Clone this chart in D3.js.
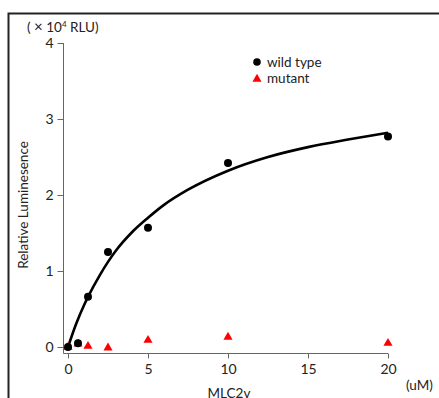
<!DOCTYPE html>
<html><head><meta charset="utf-8">
<script src="https://cdn.jsdelivr.net/npm/d3@7/dist/d3.min.js"></script>
<style>body{margin:0;background:#fff;} svg{display:block;font-family:Lato,"Open Sans",sans-serif;}</style>
</head><body>
<script>
const concentrations = [0, 0.625, 1.25, 2.5, 5, 10, 20];
const wildType = [0, 0.05, 0.66, 1.25, 1.57, 2.42, 2.77];
const mutant = [0, 0.04, 0.01, -0.01, 0.09, 0.13, 0.05];
const fitX = [0, 0.5, 1, 1.25, 2, 2.5, 3, 4, 5, 6, 7.5, 10, 12.5, 15, 17.5, 20];
const fitY = [0, 0.3, 0.55, 0.66, 0.95, 1.12, 1.27, 1.51, 1.70, 1.87, 2.07, 2.32, 2.50, 2.63, 2.73, 2.82];
const xTicks = [0, 5, 10, 15, 20];
const yTicks = [0, 1, 2, 3, 4];

const W = 439, H = 398;
const svg = d3.select("body").append("svg").attr("width", W).attr("height", H);

// frame
svg.append("rect").attr("x", 8.5).attr("y", 13.5).attr("width", 500).attr("height", 500)
  .attr("fill", "none").attr("stroke", "#222").attr("stroke-width", 2);

const x = d3.scaleLinear().domain([0, 20]).range([68, 388]);
const y = d3.scaleLinear().domain([0, 4]).range([347, 43]);

const axisColor = "#666";
// y axis
const yAxis = svg.append("g").attr("transform", "translate(63.5,0)")
  .call(d3.axisLeft(y).tickValues(yTicks).tickFormat(d3.format("d")).tickSize(6).tickPadding(4).tickSizeOuter(0));
yAxis.select(".domain").remove();
yAxis.append("line").attr("x1", 0).attr("x2", 0).attr("y1", y(4)).attr("y2", 353.5).attr("stroke", axisColor);
// x axis
const xAxis = svg.append("g").attr("transform", "translate(0,353.5)")
  .call(d3.axisBottom(x).tickValues(xTicks).tickFormat(d3.format("d")).tickSize(5).tickPadding(6).tickSizeOuter(0));
xAxis.select(".domain").remove();
xAxis.append("line").attr("x1", 63.5).attr("x2", x(20)).attr("y1", 0).attr("y2", 0).attr("stroke", axisColor);
svg.selectAll(".tick line").attr("stroke", axisColor);
svg.selectAll(".tick text").attr("fill", "#222").style("font-size", "14px").style("font-family", "Lato, sans-serif");

// labels
svg.append("text").attr("x", 27).attr("y", 32).attr("fill", "#222").style("font-size", "13.5px")
  .html('( <tspan font-size="15">×</tspan> 10<tspan dy="-5" font-size="8">4</tspan><tspan dy="5"> RLU)</tspan>');
svg.append("text").attr("transform", "translate(28,205) rotate(-90)").attr("text-anchor", "middle")
  .attr("fill", "#222").style("font-size", "13.5px").text("Relative Luminesence");
svg.append("text").attr("x", 229).attr("y", 398).attr("text-anchor", "middle")
  .attr("fill", "#222").style("font-size", "13.5px").text("MLC2v");
svg.append("text").attr("x", 406).attr("y", 390).attr("fill", "#222").style("font-size", "13.5px").text("(uM)");

// fit curve
const line = d3.line().x(d => x(d[0])).y(d => y(d[1])).curve(d3.curveMonotoneX);
svg.append("path").datum(fitX.map((v, i) => [v, fitY[i]])).attr("d", line)
  .attr("fill", "none").attr("stroke", "#000").attr("stroke-width", 2.6);

// mutant triangles
const tri = d3.symbol().type(d3.symbolTriangle).size(36);
svg.selectAll(".mut").data(concentrations.map((c, i) => [c, mutant[i]])).join("path")
  .attr("transform", d => `translate(${x(d[0])},${y(d[1])})`).attr("d", tri).attr("fill", "#f00");

// wild type dots
svg.selectAll(".wt").data(concentrations.map((c, i) => [c, wildType[i]])).join("circle")
  .attr("cx", d => x(d[0])).attr("cy", d => y(d[1])).attr("r", 4).attr("fill", "#000");

// legend
svg.append("circle").attr("cx", 257).attr("cy", 62).attr("r", 3.8).attr("fill", "#000");
svg.append("text").attr("x", 267).attr("y", 67).attr("fill", "#222").style("font-size", "13.5px").text("wild type");
svg.append("path").attr("transform", "translate(257,79)").attr("d", tri).attr("fill", "#f00");
svg.append("text").attr("x", 267).attr("y", 83).attr("fill", "#222").style("font-size", "13.5px").text("mutant");
</script>
</body></html>
